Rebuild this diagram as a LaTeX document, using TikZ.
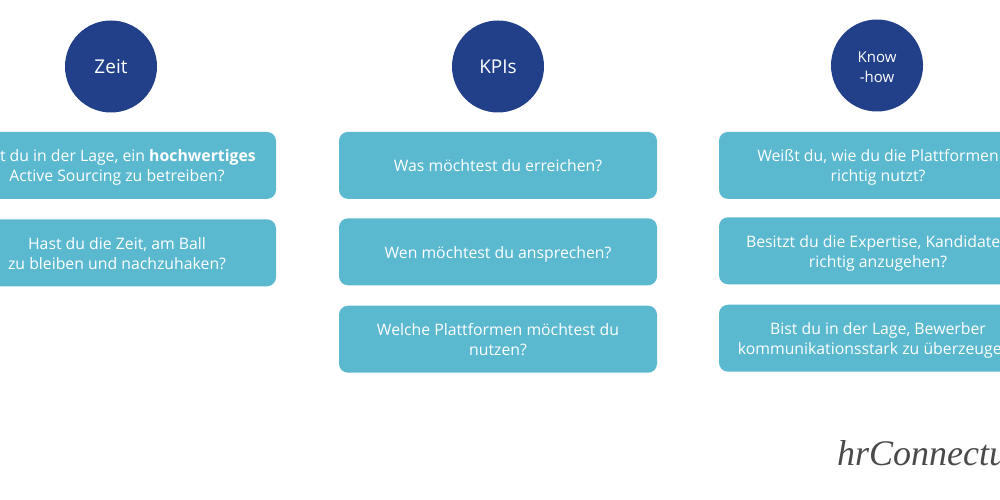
\documentclass[tikz,border=0pt]{standalone}
\usepackage{fontspec}
\setmainfont{Open Sans}
\newfontfamily\logofont{Liberation Serif}
\usepackage{tikz}
\usetikzlibrary{positioning}
\definecolor{topicblue}{HTML}{223F8A}
\definecolor{fragecyan}{HTML}{5AB8CF}
\definecolor{logogrey}{HTML}{4A4A4A}
\newcommand{\hoch}{\rule{0pt}{18.5pt}}

\begin{document}
\begin{tikzpicture}[
  x=1pt, y=-1pt, node distance=20pt,
  topic/.style={circle, fill=topicblue, text=white, align=center,
    minimum size=92pt, inner sep=0pt, font=\fontsize{19}{20}\selectfont,
    execute at begin node=\rule{0pt}{21pt}, execute at end node=\strut},
  frage/.style={rectangle, fill=fragecyan, text=white, rounded corners=9pt, align=center,
    minimum width=318pt, minimum height=67pt, inner sep=0pt,
    font=\fontsize{15.8}{20}\selectfont, execute at end node=\strut},
  logo/.style={anchor=base west, text=logogrey, inner sep=0pt,
    font=\logofont\itshape\fontsize{36}{36}\selectfont}]
  \useasboundingbox (0,0) rectangle (1000,500);
  % Zeit
  \node[topic] (zeit) at (111,66.5) {Zeit};
  \node[frage, below=of zeit, xshift=6pt, yshift=1pt] (zeit1)
    {\hoch Bist du in der Lage, ein \textbf{hochwertiges}\\Active Sourcing zu betreiben?};
  \node[frage, below=of zeit1] (zeit2)
    {\hoch Hast du die Zeit, am Ball\\zu bleiben und nachzuhaken?};
  % KPIs
  \node[topic] (kpis) at (498,66.5) {KPIs};
  \node[frage, below=of kpis, yshift=1pt] (kpis1) {\hoch Was möchtest du erreichen?};
  \node[frage, below=of kpis1, yshift=1pt] (kpis2) {\hoch Wen möchtest du ansprechen?};
  \node[frage, below=of kpis2] (kpis3) {\hoch Welche Plattformen möchtest du\\nutzen?};
  % Know-how
  \node[topic, font=\fontsize{15}{20}\selectfont] (know) at (877,65.5) {\rule{0pt}{19.5pt}Know\\-how};
  \node[frage, below=of know, xshift=1pt] (know1)
    {\hoch Weißt du, wie du die Plattformen\\richtig nutzt?};
  \node[frage, below=of know1, yshift=2pt] (know2)
    {\hoch Besitzt du die Expertise, Kandidaten\\richtig anzugehen?};
  \node[frage, below=of know2] (know3)
    {\hoch Bist du in der Lage, Bewerber\\kommunikationsstark zu überzeugen?};
  \node[logo] (brand) at (837,465) {hrConnectu};
\end{tikzpicture}
\end{document}
